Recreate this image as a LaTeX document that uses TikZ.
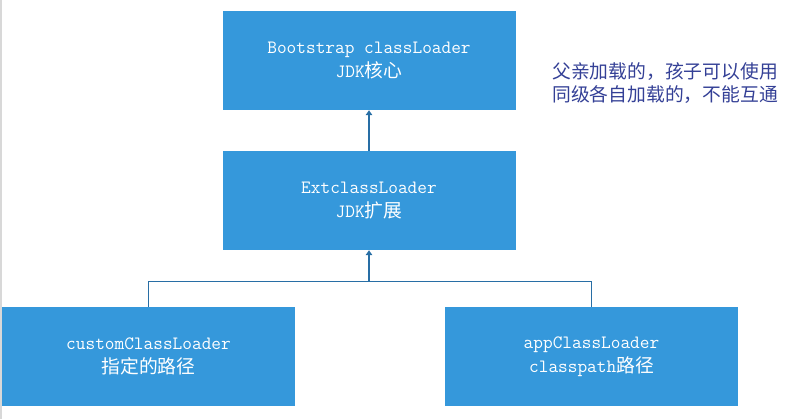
\documentclass[tikz,border=0pt]{standalone}
\usepackage{fontspec}
\newfontfamily\cjk{Noto Sans CJK SC}
\usetikzlibrary{arrows.meta}
\definecolor{boxblue}{RGB}{53,152,219}
\definecolor{lineblue}{RGB}{40,110,165}
\definecolor{notecol}{RGB}{52,64,150}
\begin{document}
\begin{tikzpicture}[x=1pt,y=-1pt,
  loader/.style={draw=none,fill=boxblue,minimum width=293pt,minimum height=99pt,
    text=white,align=center,inner sep=0pt,
    font=\ttfamily\fontsize{18.8}{24}\selectfont},
  link/.style={draw=lineblue,line width=1.3pt},
  tip/.style={-{Triangle[length=5pt,width=6.5pt]}}
]
\useasboundingbox (0,0) rectangle (802,419);
\draw[draw={rgb,255:red,216;green,216;blue,216},line width=1.5pt] (1,0) -- (1,419);
\node[loader] (boot) at (369,60.5) {Bootstrap classLoader\\JDK{\cjk\fontsize{18.8}{24}\selectfont 核心}};
\node[loader] (ext) at (369,200.5) {ExtclassLoader\\JDK{\cjk\fontsize{18.8}{24}\selectfont 扩展}};
\node[loader] (custom) at (148.5,356.5) {customClassLoader\\{\cjk\fontsize{18.8}{24}\selectfont 指定的路径}};
\node[loader] (app) at (591.5,356.5) {appClassLoader\\classpath{\cjk\fontsize{18.8}{24}\selectfont 路径}};
\node[anchor=west,text=notecol,align=left,inner sep=0pt,
  font=\cjk\fontsize{18.8}{22.6}\selectfont] (note) at (552,83)
  {父亲加载的，孩子可以使用\\同级各自加载的，不能互通};
\coordinate (join) at (369,281.5);
\draw[link,tip] (ext.north) -- (boot.south);
\draw[link] (custom.north) |- (join) -| (app.north);
\draw[link,tip] (join) -- (ext.south);
\end{tikzpicture}
\end{document}
